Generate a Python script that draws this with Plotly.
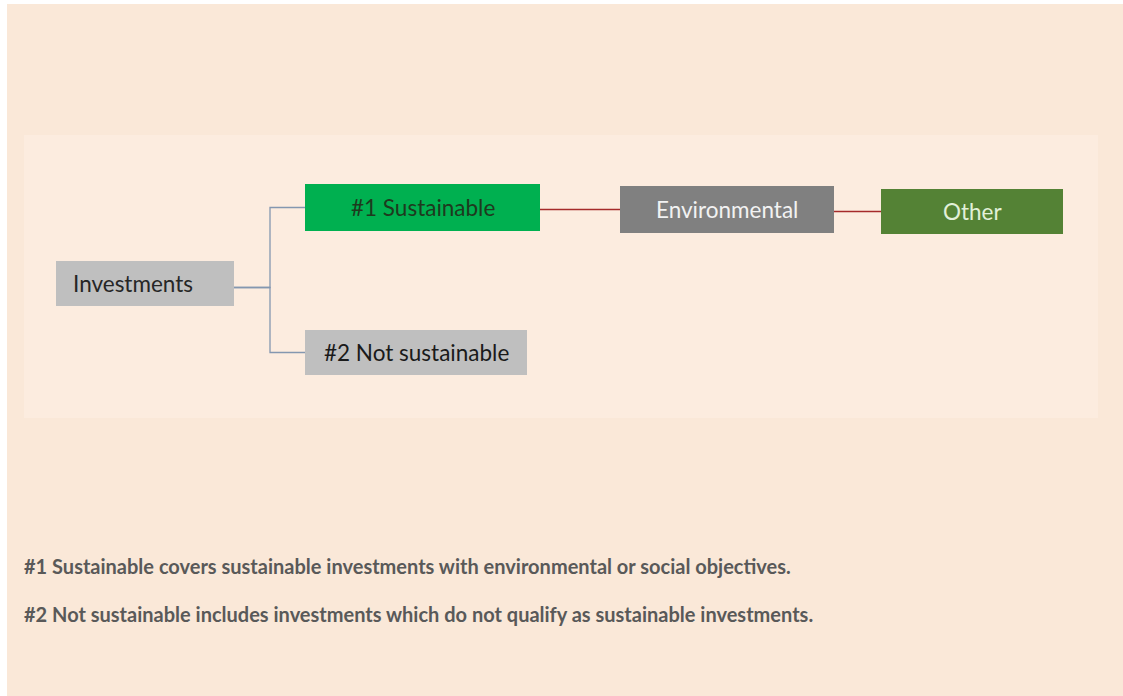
import plotly.graph_objects as go

# ---- data ----
node_labels = ["Investments", "#1 Sustainable", "#2 Not sustainable", "Environmental", "Other"]
edges_from = ["Investments", "Investments", "#1 Sustainable", "Environmental"]
edges_to = ["#1 Sustainable", "#2 Not sustainable", "Environmental", "Other"]
footnotes = [
    "#1 Sustainable covers sustainable investments with environmental or social objectives.",
    "#2 Not sustainable includes investments which do not qualify as sustainable investments.",
]

# ---- layout (pixel-based coordinate space) ----
W, H = 1123, 696
boxes = {
    "Investments":        dict(x0=56,  x1=234,  y0=261, y1=306, fill="#BFBFBF", font="#262626", align="left", tx=71),
    "#1 Sustainable":     dict(x0=305, x1=540,  y0=184, y1=231, fill="#00B050", font="#1E3A1E", align="center"),
    "#2 Not sustainable": dict(x0=305, x1=527,  y0=330, y1=375, fill="#BFBFBF", font="#1A1A1A", align="center"),
    "Environmental":      dict(x0=620, x1=834,  y0=186, y1=233, fill="#808080", font="#F2F2F2", align="center"),
    "Other":              dict(x0=881, x1=1063, y0=189, y1=234, fill="#548235", font="#E2F0D9", align="center"),
}
edge_colors = ["#8497B0", "#8497B0", "#A52A2A", "#A52A2A"]
BOX_FONT = dict(family="Lato", size=22.5)
NOTE_FONT = dict(family="Lato", size=20, color="#595959")

fig = go.Figure()
shapes = []
# outer background
shapes.append(dict(type="rect", x0=7, x1=W, y0=4, y1=H, fillcolor="#FAE8D8", line=dict(width=0), layer="below"))
# inner panel
shapes.append(dict(type="rect", x0=24, x1=1098, y0=135, y1=418, fillcolor="#FCECDF", line=dict(width=0), layer="below"))

# connectors
trunk_x = 270
for src, dst, col in zip(edges_from, edges_to, edge_colors):
    s, d = boxes[src], boxes[dst]
    sy = (s["y0"] + s["y1"]) / 2 + 4
    dy = (d["y0"] + d["y1"]) / 2
    if src == "Investments":
        xs = [s["x1"], trunk_x, trunk_x, d["x0"]]
        ys = [sy, sy, dy, dy]
    else:
        xs = [s["x1"], d["x0"]]
        ys = [dy, dy]
    fig.add_trace(go.Scatter(x=xs, y=ys, mode="lines", line=dict(color=col, width=1.3),
                             hoverinfo="skip", showlegend=False))

# boxes
for name in node_labels:
    b = boxes[name]
    shapes.append(dict(type="rect", x0=b["x0"], x1=b["x1"], y0=b["y0"], y1=b["y1"],
                       fillcolor=b["fill"], line=dict(width=0), layer="below"))
    cy = (b["y0"] + b["y1"]) / 2
    if b["align"] == "left":
        fig.add_annotation(x=b["tx"], y=cy, text=name, showarrow=False,
                           xanchor="left", yanchor="middle",
                           font=dict(**BOX_FONT, color=b["font"]))
    else:
        fig.add_annotation(x=(b["x0"] + b["x1"]) / 2, y=cy, text=name,
                           showarrow=False, xanchor="center", yanchor="middle",
                           font=dict(**BOX_FONT, color=b["font"]))

# footnotes
for i, t in enumerate(footnotes):
    fig.add_annotation(x=22, y=566 + 48 * i, text="<b>" + t + "</b>", showarrow=False,
                       xanchor="left", yanchor="middle", font=NOTE_FONT)

fig.update_layout(
    width=W, height=H,
    margin=dict(l=0, r=0, t=0, b=0),
    paper_bgcolor="white", plot_bgcolor="white",
    shapes=shapes,
    xaxis=dict(range=[0, W], visible=False, fixedrange=True),
    yaxis=dict(range=[H, 0], visible=False, fixedrange=True),
    showlegend=False,
)
fig.write_html("out.html", config={"displayModeBar": False},
               post_script="document.body.style.margin='0';document.body.style.overflow='hidden';")
